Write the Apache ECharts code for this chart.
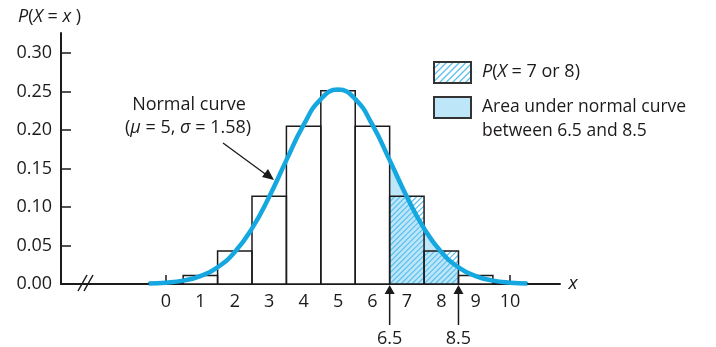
<!DOCTYPE html>
<html>
<head>
<meta charset="utf-8">
<script src="https://cdn.jsdelivr.net/npm/echarts@6/dist/echarts.min.js"></script>
<style>
  html, body { margin: 0; padding: 0; background: #fff; }
  #main { width: 716px; height: 347px; }
</style>
</head>
<body>
<div id="main"></div>
<script>
// binomial probabilities, bars centred on x = 0..10
const barX = [0, 1, 2, 3, 4, 5, 6, 7, 8, 9, 10];
const barP = [0.001, 0.011, 0.043, 0.114, 0.205, 0.251, 0.205, 0.114, 0.043, 0.011, 0.001];
const hatchedX = [7, 8];

// normal curve (mu = 5, sigma = 1.58)
const curveX = [-0.5, 0, 0.5, 1, 1.5, 2, 2.5, 3, 3.5, 4, 4.5, 5,
                5.5, 6, 6.5, 7, 7.5, 8, 8.5, 9, 9.5, 10, 10.5];
const curveY = [0.0006, 0.0017, 0.0044, 0.0102, 0.0217, 0.0416, 0.0722, 0.1134, 0.1609, 0.2067, 0.2402, 0.2525,
                0.2402, 0.2067, 0.1609, 0.1134, 0.0722, 0.0416, 0.0217, 0.0102, 0.0044, 0.0017, 0.0006];
const areaFrom = 6.5, areaTo = 8.5;

const xTicks = [0, 1, 2, 3, 4, 5, 6, 7, 8, 9, 10];
const yTicks = [0, 0.05, 0.10, 0.15, 0.20, 0.25, 0.30];

const ink = '#1d1a1b';
const blue = '#14a7e0';
const lightBlue = '#bde6f8';
const hatchBlue = '#5cc0ef';
const font = '"Open Sans", "Noto Sans", sans-serif';

// diagonal hatch lines clipped to a rectangle (x + y = const in pixels)
function hatchLines(x0, y0, x1, y1, step) {
    let out = [];
    for (let k = x0 + y0; k <= x1 + y1; k += step) {
        let xa = Math.max(x0, k - y1);
        let xb = Math.min(x1, k - y0);
        if (xb <= xa) continue;
        out.push({
            type: 'line',
            shape: { x1: xa, y1: k - xa, x2: xb, y2: k - xb },
            style: { stroke: hatchBlue, lineWidth: 1.2 }
        });
    }
    return out;
}

function barRect(api) {
    let x = api.value(0), y = api.value(1);
    let p0 = api.coord([x - 0.5, y]);
    let p1 = api.coord([x + 0.5, 0]);
    return { x: p0[0], y: p0[1], width: p1[0] - p0[0], height: p1[1] - p0[1] };
}

let chart = echarts.init(document.getElementById('main'), null, { renderer: 'canvas' });

let barData = barX.map((x, i) => [x, barP[i]]);
let hatchData = barData.filter(d => hatchedX.indexOf(d[0]) >= 0);
let curveData = curveX.map((x, i) => [x, curveY[i]]);
let areaData = curveData.filter(d => d[0] >= areaFrom && d[0] <= areaTo);

let option = {
    animation: false,
    textStyle: { fontFamily: font },
    grid: { left: 61, top: 33, width: 499, height: 251 },
    xAxis: {
        type: 'value',
        min: -3.05,
        max: 11.45,
        axisLine: { onZero: false, lineStyle: { color: ink, width: 2 } },
        axisTick: { inside: true, length: 9, customValues: xTicks, lineStyle: { color: ink, width: 1.5 } },
        axisLabel: { customValues: xTicks, color: ink, fontSize: 18, margin: 9, fontFamily: font },
        splitLine: { show: false }
    },
    yAxis: {
        type: 'value',
        min: 0,
        max: 0.326,
        axisLine: { show: true, onZero: false, lineStyle: { color: ink, width: 2 } },
        axisTick: { show: true, inside: true, length: 10, customValues: yTicks, lineStyle: { color: ink, width: 1.5 } },
        axisLabel: {
            customValues: yTicks, color: ink, fontSize: 18, margin: 9, fontFamily: font,
            formatter: v => v.toFixed(2)
        },
        splitLine: { show: false }
    },
    series: [
        {
            // white bar bodies
            type: 'custom',
            z: 1,
            data: barData,
            renderItem: (params, api) => ({
                type: 'rect', shape: barRect(api), style: { fill: '#fff', stroke: null }
            })
        },
        {
            // area under the curve between 6.5 and 8.5
            type: 'line',
            z: 2,
            data: areaData,
            smooth: true,
            showSymbol: false,
            lineStyle: { width: 0 },
            areaStyle: { color: lightBlue, opacity: 1 }
        },
        {
            // hatching of P(X = 7 or 8)
            type: 'custom',
            z: 3,
            data: hatchData,
            renderItem: (params, api) => {
                let r = barRect(api);
                return { type: 'group', children: hatchLines(r.x, r.y, r.x + r.width, r.y + r.height, 5.5) };
            }
        },
        {
            // bar outlines
            type: 'custom',
            z: 4,
            data: barData,
            renderItem: (params, api) => ({
                type: 'rect', shape: barRect(api), style: { fill: null, stroke: ink, lineWidth: 1.5 }
            })
        },
        {
            type: 'line',
            z: 5,
            data: curveData,
            smooth: true,
            showSymbol: false,
            lineStyle: { color: blue, width: 4.5 }
        }
    ]
};
chart.setOption(option);

// annotations
let g = [];
let y0 = chart.convertToPixel({ gridIndex: 0 }, [0, 0])[1];
let ital = { fontStyle: 'italic', fontSize: 18, fontFamily: font, fill: ink };

[areaFrom, areaTo].forEach(v => {
    let px = chart.convertToPixel({ gridIndex: 0 }, [v, 0])[0];
    g.push({ type: 'polygon', shape: { points: [[px, y0 + 1], [px - 5, y0 + 10], [px + 5, y0 + 10]] }, style: { fill: ink } });
    g.push({ type: 'line', shape: { x1: px, y1: y0 + 8, x2: px, y2: y0 + 41 }, style: { stroke: ink, lineWidth: 1.5 } });
    g.push({ type: 'text', x: px, y: y0 + 55, style: { text: String(v), fill: ink, font: '18px ' + font, align: 'center', verticalAlign: 'middle' } });
});

// axis break
g.push({ type: 'rect', shape: { x: 82, y: 281, width: 5, height: 6 }, style: { fill: '#fff' } });
g.push({ type: 'line', shape: { x1: 78, y1: 291, x2: 87, y2: 275 }, style: { stroke: ink, lineWidth: 1.5 } });
g.push({ type: 'line', shape: { x1: 84, y1: 291, x2: 93, y2: 275 }, style: { stroke: ink, lineWidth: 1.5 } });

// axis names
g.push({
    type: 'text', x: 18, y: 17,
    style: {
        text: '{i|P}({i|X} = {i|x} )', fill: ink, font: '18px ' + font, verticalAlign: 'middle',
        rich: { i: ital }
    }
});
g.push({ type: 'text', x: 573, y: y0, style: { text: 'x', fill: ink, font: 'italic 19px ' + font, align: 'center', verticalAlign: 'middle' } });

// normal curve label
g.push({ type: 'text', x: 189, y: 105, style: { text: 'Normal curve', fill: ink, font: '18px ' + font, align: 'center', verticalAlign: 'middle' } });
g.push({
    type: 'text', x: 188, y: 128,
    style: {
        text: '({i|μ} = 5, {i|σ} = 1.58)', fill: ink, font: '18px ' + font, align: 'center', verticalAlign: 'middle',
        rich: { i: ital }
    }
});
g.push({ type: 'line', shape: { x1: 223, y1: 143, x2: 268, y2: 176 }, style: { stroke: ink, lineWidth: 1.3 } });
g.push({ type: 'polygon', shape: { points: [[274, 180], [262, 177], [268, 169]] }, style: { fill: ink } });

// legend
g.push({ type: 'rect', shape: { x: 434, y: 62, width: 37, height: 21 }, style: { fill: '#fff' } });
hatchLines(434, 62, 471, 83, 6.5).forEach(l => g.push(l));
g.push({ type: 'rect', shape: { x: 434, y: 62, width: 37, height: 21 }, style: { fill: null, stroke: '#333', lineWidth: 2 } });
g.push({ type: 'rect', shape: { x: 434, y: 97, width: 37, height: 21 }, style: { fill: lightBlue, stroke: '#333', lineWidth: 2 } });
g.push({
    type: 'text', x: 482, y: 72,
    style: {
        text: '{i|P}({i|X} = 7 or 8)', fill: ink, font: '18px ' + font, verticalAlign: 'middle',
        rich: { i: ital }
    }
});
g.push({ type: 'text', x: 482, y: 107, style: { text: 'Area under normal curve', fill: ink, font: '17.5px ' + font, verticalAlign: 'middle' } });
g.push({ type: 'text', x: 482, y: 131, style: { text: 'between 6.5 and 8.5', fill: ink, font: '17.5px ' + font, verticalAlign: 'middle' } });

chart.setOption({ graphic: { elements: g } });
</script>
</body>
</html>
